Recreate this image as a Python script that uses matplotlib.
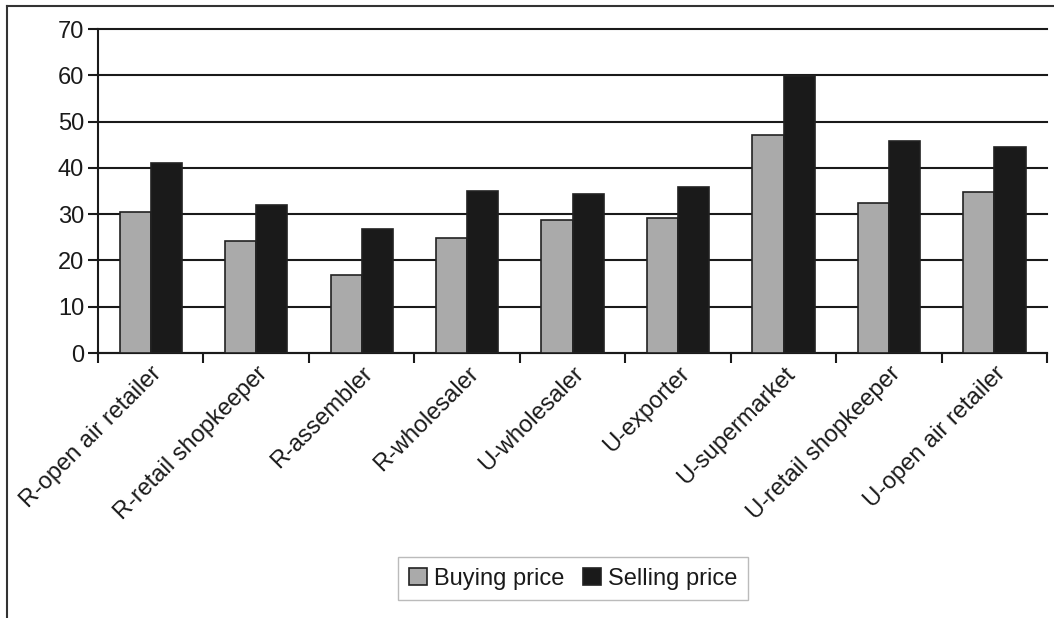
import matplotlib.pyplot as plt
import numpy as np
from matplotlib.lines import Line2D

plt.rcParams["font.family"] = ["Liberation Sans", "DejaVu Sans"]
plt.rcParams["text.color"] = "#1a1a1a"

categories = ["R-open air retailer", "R-retail shopkeeper", "R-assembler",
              "R-wholesaler", "U-wholesaler", "U-exporter", "U-supermarket",
              "U-retail shopkeeper", "U-open air retailer"]
buying = [30.5, 24.1, 16.8, 24.9, 28.8, 29.1, 47.0, 32.4, 34.8]
selling = [41.0, 32.0, 26.8, 35.1, 34.3, 35.9, 59.8, 45.8, 44.6]
y_ticks = [0, 10, 20, 30, 40, 50, 60, 70]

fig = plt.figure(figsize=(10.54, 6.18), dpi=100)
ax = fig.add_axes([0.093, 0.4288, 0.9005, 0.5242])

x = np.arange(len(categories))
w = 0.295
ax.bar(x - w / 2, buying, w, color="#aaaaaa", edgecolor="#222222",
       linewidth=1.2, label="Buying price", zorder=3)
ax.bar(x + w / 2, selling, w, color="#1a1a1a", edgecolor="#222222",
       linewidth=1.2, label="Selling price", zorder=3)

ax.set_xlim(-0.5, len(categories) - 0.5)
ax.set_ylim(0, 70)
ax.set_yticks(y_ticks)
ax.yaxis.grid(True, color="#1a1a1a", linewidth=1.5, zorder=0)
for gl in ax.get_ygridlines():
    gl.set_clip_on(False)
ax.set_axisbelow(True)

ax.set_xticks(x)
ax.set_xticklabels(categories, rotation=45, ha="right",
                   rotation_mode="anchor", fontsize=17, color="#1a1a1a")
ax.set_xticks(np.arange(-0.5, len(categories)), minor=True)
ax.tick_params(axis="x", which="major", length=0, pad=7)
ax.tick_params(axis="x", which="minor", length=7, width=1.5, color="#1a1a1a")
ax.tick_params(axis="y", length=7, width=1.5, color="#1a1a1a",
               labelsize=17, labelcolor="#1a1a1a", pad=3)

for side in ("top", "right"):
    ax.spines[side].set_visible(False)
for side in ("left", "bottom"):
    ax.spines[side].set_linewidth(1.5)
    ax.spines[side].set_color("#1a1a1a")

leg = ax.legend(loc="center", bbox_to_anchor=(0.5436, 0.0639),
                bbox_transform=fig.transFigure, ncol=2, fontsize=17,
                frameon=True, fancybox=False, handlelength=0.75,
                handleheight=0.75, handletextpad=0.3, columnspacing=0.8,
                borderpad=0.45)
leg.get_frame().set_edgecolor("#aaaaaa")
leg.get_frame().set_linewidth(1.0)

# outer frame (left and top edges)
fig.lines.append(Line2D([0.0066, 0.0066], [0.0, 0.990],
                        transform=fig.transFigure, color="#333333", linewidth=1.5))
fig.lines.append(Line2D([0.0066, 1.0], [0.990, 0.990],
                        transform=fig.transFigure, color="#333333", linewidth=1.5))

fig.savefig("out.png", dpi=100)
